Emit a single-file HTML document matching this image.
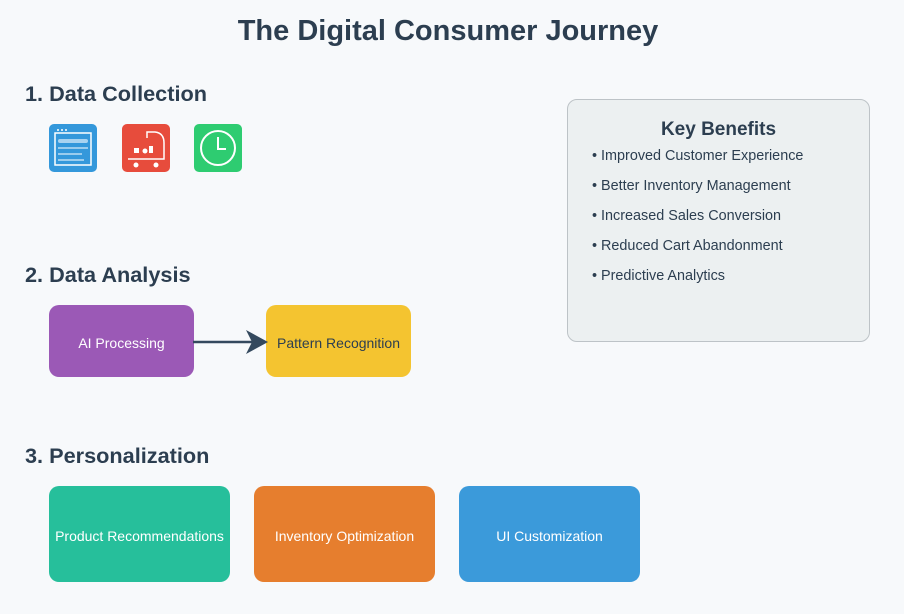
<!DOCTYPE html>
<html><head><style>
body{margin:0;width:904px;height:614px;background:#f7f9fb;font-family:"Liberation Sans",sans-serif;position:relative;overflow:hidden}
.a{position:absolute}
h1{position:absolute;margin:0;left:0;width:896px;text-align:center;top:15px;font-size:29px;color:#2c3e50;font-weight:bold}
.h{position:absolute;margin:0;font-size:21.7px;font-weight:bold;color:#2c3e50;left:25px}
.box{position:absolute;border-radius:10px;color:#fff;font-size:14px;display:flex;align-items:center;justify-content:center;padding-top:3px;box-sizing:border-box}
.li{position:absolute;left:592px;font-size:14.4px;color:#2c3e50}
</style></head><body>
<h1>The Digital Consumer Journey</h1>
<div class="h" style="top:81px">1. Data Collection</div>
<div class="h" style="top:262px">2. Data Analysis</div>
<div class="h" style="top:443px">3. Personalization</div>
<svg class="a" style="left:0;top:0" width="904" height="614">
<rect x="49" y="124" width="48" height="48" rx="5" fill="#3498db"/>
<rect x="55" y="133" width="36" height="32" fill="none" stroke="#fff" stroke-width="1.5"/>
<circle cx="58" cy="130" r="1" fill="#fff"/><circle cx="62" cy="130" r="1" fill="#fff"/><circle cx="66" cy="130" r="1" fill="#fff"/>
<rect x="58" y="139" width="30" height="4" rx="2" fill="#a9d3f0"/>
<line x1="58" y1="148" x2="88" y2="148" stroke="#fff"/><line x1="58" y1="154" x2="82" y2="154" stroke="#fff"/><line x1="58" y1="160" x2="84" y2="160" stroke="#fff"/>
<rect x="122" y="124" width="48" height="48" rx="5" fill="#e74c3c"/>
<path d="M128 159 H164 V143 Q164 133 155 132 H147 V138" fill="none" stroke="#fff" stroke-width="1.5"/>
<rect x="134" y="148" width="5" height="5" fill="#fff"/><circle cx="145" cy="151" r="2.5" fill="#fff"/><rect x="149" y="146" width="4" height="7" fill="#fff"/>
<circle cx="136" cy="165" r="2.5" fill="#fff"/><circle cx="156" cy="165" r="2.5" fill="#fff"/>
<rect x="194" y="124" width="48" height="48" rx="5" fill="#2ecc71"/>
<circle cx="218" cy="148" r="17" fill="none" stroke="#fff" stroke-width="2"/>
<path d="M218 137 V149 H226" fill="none" stroke="#fff" stroke-width="2"/>
</svg>
<div class="box" style="left:49px;top:305px;width:145px;height:72px;background:#9b59b6">AI Processing</div>
<div class="box" style="left:266px;top:305px;width:145px;height:72px;background:#f4c430;color:#2c3e50">Pattern Recognition</div>
<svg class="a" style="left:0;top:0" width="904" height="614">
<line x1="193" y1="342" x2="255" y2="342" stroke="#34495e" stroke-width="2.5"/>
<path d="M268 342 L246 330 L252 342 L246 354 Z" fill="#34495e"/>
</svg>
<div class="box" style="left:49px;top:486px;width:181px;height:96px;background:#26bf9b">Product Recommendations</div>
<div class="box" style="left:254px;top:486px;width:181px;height:96px;background:#e67e2e">Inventory Optimization</div>
<div class="box" style="left:459px;top:486px;width:181px;height:96px;background:#3b9ada">UI Customization</div>
<div class="a" style="left:567px;top:99px;width:301px;height:241px;background:#ecf0f1;border:1px solid #bdc3c7;border-radius:10px"></div>
<div class="a" style="left:567px;top:119px;width:303px;text-align:center;font-size:19px;font-weight:bold;color:#2c3e50">Key Benefits</div>
<div class="li" style="top:148px">• Improved Customer Experience</div>
<div class="li" style="top:178px">• Better Inventory Management</div>
<div class="li" style="top:208px">• Increased Sales Conversion</div>
<div class="li" style="top:238px">• Reduced Cart Abandonment</div>
<div class="li" style="top:268px">• Predictive Analytics</div>
</body></html>
